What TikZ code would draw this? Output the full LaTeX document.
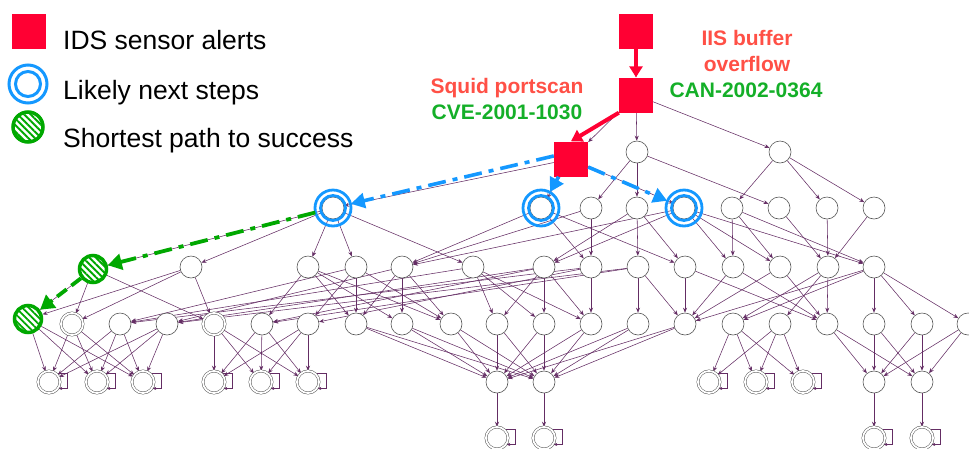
\documentclass[tikz,border=0pt]{standalone}
\usepackage{fontspec}
\setmainfont{Liberation Sans}
\usetikzlibrary{arrows.meta,patterns.meta,backgrounds}
\definecolor{alertred}{RGB}{255,0,51}
\definecolor{likelyblue}{RGB}{20,152,255}
\definecolor{pathgreen}{RGB}{0,168,0}
\definecolor{lblred}{RGB}{255,80,70}
\definecolor{lblgreen}{RGB}{20,175,40}
\definecolor{edgepurple}{RGB}{100,45,100}
\definecolor{nodegray}{RGB}{85,85,85}
\begin{document}
\begin{tikzpicture}[x=1pt,y=-1pt,
  pl/.style={circle,draw=nodegray,line width=0.6pt,minimum size=22pt,inner sep=0pt,fill=white},
  dbl/.style={pl,double=white,double distance=1.8pt,line width=0.5pt},
  alertsq/.style={rectangle,fill=alertred,minimum width=34pt,minimum height=35pt,inner sep=0pt},
  shortest/.style={circle,draw=pathgreen,line width=3.5pt,minimum size=27pt,inner sep=0pt,fill=white,
     postaction={pattern={Lines[angle=-45,distance=4.6pt,line width=1.9pt]},pattern color=pathgreen}},
  ring/.style={draw=likelyblue,line width=2.8pt},
  edge/.style={draw=edgepurple,line width=0.55pt,-{Stealth[length=5pt,width=4pt]}},
  redarrow/.style={draw=alertred,line width=4pt,-{Triangle[length=11pt,width=13pt]}},
  bluearrow/.style={draw=likelyblue,line width=3.6pt,dash pattern=on 18pt off 7pt on 5pt off 7pt,-{Triangle[length=14pt,width=15pt]}},
  greenarrow/.style={draw=pathgreen,line width=3.8pt,dash pattern=on 18pt off 7pt on 5pt off 7pt,-{Triangle[length=14pt,width=16pt]}},
  greendash/.style={draw=pathgreen,line width=3.8pt,dash pattern=on 12pt off 6pt,-{Triangle[length=14pt,width=16pt]}},
  legtext/.style={anchor=base west,inner sep=0pt,font=\fontsize{26.5}{31}\selectfont},
  lbl/.style={anchor=base,inner sep=0pt,font=\fontsize{21}{25}\selectfont\bfseries}
]
\useasboundingbox (0,0) rectangle (969,448);

% ---------- legend ----------
\node[alertsq] (lg1) at (29,31) {};
\node[legtext] (lt1) at (63,49) {IDS sensor alerts};
\node[circle,minimum size=26pt,inner sep=0pt] (lg2) at (28,84) {};
\draw[ring,line width=3pt] (lg2) circle[radius=12.5] (lg2) circle[radius=19];
\node[legtext] (lt2) at (63,99) {Likely next steps};
\node[shortest,minimum size=30pt] (lg3) at (28,127) {};
\node[legtext] (lt3) at (63,147) {Shortest path to success};

% ---------- labels ----------
\node[lbl,text=lblred] (l1) at (747,45) {IIS buffer};
\node[lbl,text=lblred] (l2) at (747,71) {overflow};
\node[lbl,text=lblgreen] (l3) at (746,97) {CAN-2002-0364};
\node[lbl,text=lblred] (l4) at (507,93) {Squid portscan};
\node[lbl,text=lblgreen] (l5) at (507,119) {CVE-2001-1030};

% ---------- nodes ----------
\node[alertsq] (a0) at (636,31) {};
\node[alertsq] (a1) at (636,95) {};
\node[alertsq] (s) at (571,159) {};
\node[pl] (c2a) at (637,152) {};
\node[pl] (c2b) at (780,152) {};

\foreach \x in {333,541,591,637,684,732,779,827,874}
  \node[pl] (n3-\x) at (\x,208) {};

\foreach \x in {191,308,356,402,473,544,591,638,685,733,780,828,874}
  \node[pl] (n4-\x) at (\x,267) {};
\node[shortest] (n4-93) at (93,269) {};

\foreach \x in {120,167,262,308,356,402,451,497,544,591,638,685,733,780,827,874,922,968}
  \node[pl] (n5-\x) at (\x,324) {};
\foreach \x in {72,214}
  \node[dbl] (n5-\x) at (\x,324) {};
\node[shortest] (n5-28) at (28,319) {};

\foreach \x in {49,97,143,214,261,308,709,756,803}
  \node[dbl] (n6-\x) at (\x,382) {};
\foreach \x in {497,544,874,922}
  \node[pl] (n6-\x) at (\x,382) {};

\foreach \x in {497,544,874,922}
  \node[dbl] (n7-\x) at (\x,438) {};

% ---------- thin edges ----------
\begin{scope}[on background layer]
\foreach \a/\b in {a0/a1,a1/s,a1/c2a,a1/c2b,s/n3-333,s/n3-541,s/n3-684,
  c2a/n3-591,c2a/n3-637,c2a/n3-779,c2b/n3-732,c2b/n3-827,c2b/n3-874}
  \draw[edge] (\a) -- (\b);
% row 3 -> row 4
\foreach \a/\b in {n3-333/n4-93,n3-333/n4-191,n3-333/n4-308,n3-333/n4-356,n3-333/n4-473,
  n3-541/n4-402,n3-541/n4-591,n3-541/n4-685,
  n3-591/n4-591,n3-591/n4-402,
  n3-637/n4-638,n3-637/n4-544,n3-637/n4-685,
  n3-684/n4-402,n3-684/n4-544,n3-684/n4-733,n3-684/n4-780,n3-684/n4-874,
  n3-732/n4-733,n3-732/n4-780,n3-732/n4-874,
  n3-779/n4-828,n3-827/n4-828,n3-874/n4-828}
  \draw[edge] (\a) -- (\b);
% row 4 -> row 5
\foreach \a/\b in {n4-93/n5-28,n4-93/n5-72,n4-93/n5-214,
  n4-191/n5-28,n4-191/n5-72,n4-191/n5-214,
  n4-308/n5-262,n4-308/n5-356,n4-308/n5-402,n4-308/n5-451,
  n4-356/n5-356,n4-356/n5-308,n4-356/n5-451,n4-356/n5-120,
  n4-402/n5-402,n4-402/n5-356,n4-402/n5-451,n4-402/n5-167,
  n4-473/n5-497,n4-473/n5-544,n4-473/n5-591,n4-473/n5-120,
  n4-544/n5-497,n4-544/n5-544,n4-544/n5-591,n4-544/n5-167,n4-544/n5-262,
  n4-591/n5-591,n4-591/n5-120,n4-591/n5-308,
  n4-638/n5-638,n4-638/n5-685,n4-638/n5-167,n4-638/n5-262,
  n4-685/n5-685,n4-685/n5-827,
  n4-733/n5-685,n4-733/n5-827,
  n4-780/n5-685,n4-780/n5-827,
  n4-828/n5-827,n4-828/n5-733,n4-828/n5-780,
  n4-874/n5-874,n4-874/n5-922,n4-874/n5-968,n4-874/n5-685,n4-874/n5-733}
  \draw[edge] (\a) -- (\b);
% row 5 -> row 6
\foreach \s in {28,72,120,167}
  \foreach \t in {49,97,143}
    \draw[edge] (n5-\s) -- (n6-\t);
\foreach \s in {214,262,308}
  \foreach \t in {214,261,308}
    \draw[edge] (n5-\s) -- (n6-\t);
\foreach \s in {356,402,451,497,544,591,638,685}
  \foreach \t in {497,544}
    \draw[edge] (n5-\s) -- (n6-\t);
\foreach \s in {733,780}
  \foreach \t in {709,756,803}
    \draw[edge] (n5-\s) -- (n6-\t);
\foreach \s in {827,874,922,968}
  \foreach \t in {874,922}
    \draw[edge] (n5-\s) -- (n6-\t);
% row 6 -> row 7
\foreach \x in {497,544,874,922}
  \draw[edge] (n6-\x) -- (n7-\x);
% self loops
\foreach \n in {n6-49,n6-97,n6-143,n6-214,n6-261,n6-308,n6-709,n6-756,n6-803,n7-497,n7-544,n7-874,n7-922}
  \draw[edge,-{Stealth[length=4pt,width=3pt]}] (\n.55) -| ([xshift=7pt]\n.east) |- (\n.-35);
\end{scope}

% ---------- likely next steps rings ----------
\foreach \x in {333,541,684}
  \draw[ring] (n3-\x) circle[radius=12.5] (n3-\x) circle[radius=18];

% ---------- highlighted arrows ----------
\draw[redarrow] (a0.south) -- (a1.north);
\draw[redarrow] (a1.south west) -- (s.north);
\draw[bluearrow,shorten >=7pt] (s.170) -- (n3-333);
\draw[bluearrow,shorten >=7pt,dash pattern=on 8pt off 4pt] (s.235) -- (n3-541);
\draw[bluearrow,shorten >=7pt] (s.-25) -- (n3-684);
\draw[greenarrow,shorten <=7pt] (n3-333) -- (n4-93);
\draw[greendash] (n4-93) -- (n5-28);
\end{tikzpicture}
\end{document}
